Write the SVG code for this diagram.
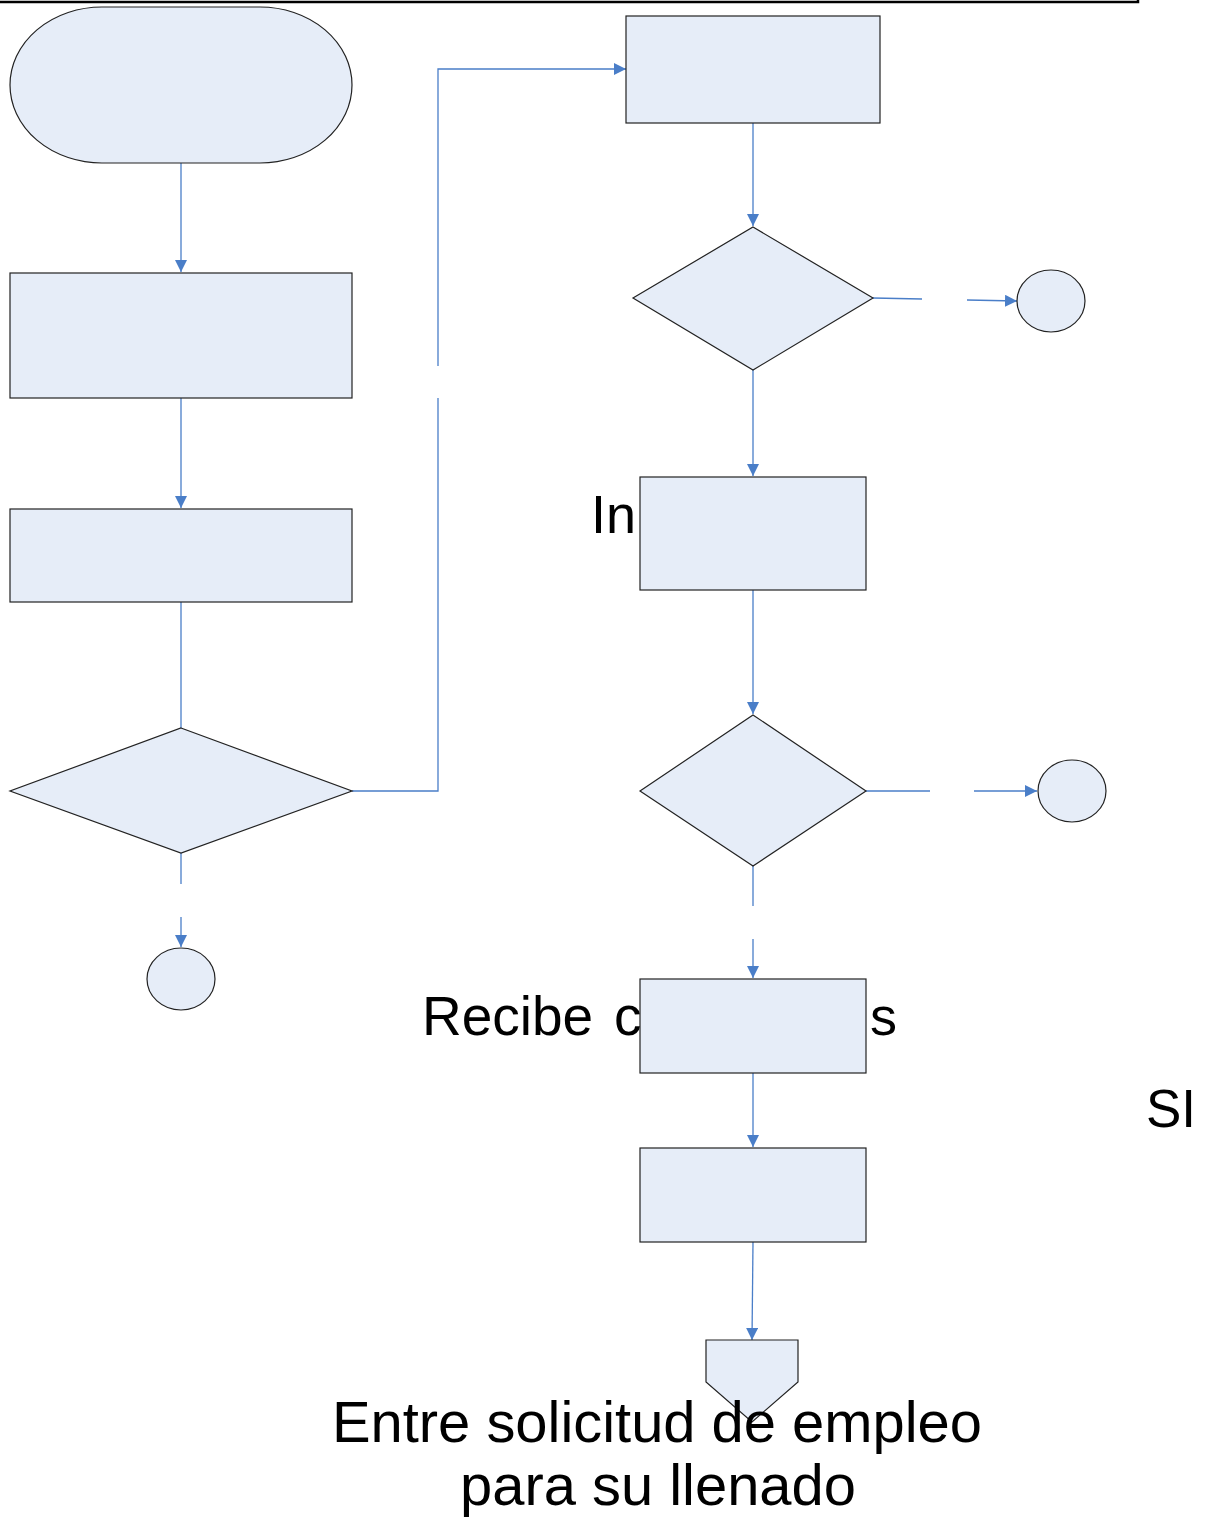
<svg xmlns="http://www.w3.org/2000/svg" width="1214" height="1518" viewBox="0 0 1214 1518">
  <style>
    .shape { fill: #E6EDF8; stroke: #222; stroke-width: 1.2; }
    .conn { fill: none; stroke: #4A7EC8; stroke-width: 1.3; }
    .lbl { font-family: "Liberation Sans", Arial, sans-serif; fill: #000; }
  </style>
  <defs>
    <marker id="arrow" viewBox="0 0 10 10" refX="10" refY="5" markerWidth="12" markerHeight="12" markerUnits="userSpaceOnUse" orient="auto">
      <path d="M0,0 L10,5 L0,10 Z" fill="#4A7EC8"/>
    </marker>
  </defs>

  <!-- page frame edge -->
  <path d="M0,2 H1138 V0" fill="none" stroke="#000" stroke-width="2.5"/>

  <!-- labels that sit behind the shapes -->
  <text class="lbl" x="591" y="533" font-size="54">In</text>
  <text class="lbl" x="422" y="1035" font-size="55">Recibe</text>
  <text class="lbl" x="614" y="1035" font-size="55">c</text>
  <text class="lbl" x="870" y="1035" font-size="54">s</text>
  <text class="lbl" x="1146" y="1127" font-size="53">SI</text>

  <!-- connectors -->
  <g id="connectors">
    <path class="conn" d="M181,163 V272" marker-end="url(#arrow)"/>
    <path class="conn" d="M181,398 V508" marker-end="url(#arrow)"/>
    <path class="conn" d="M181,602 V728"/>
    <path class="conn" d="M181,853 V884"/>
    <path class="conn" d="M181,917 V947" marker-end="url(#arrow)"/>
    <path class="conn" d="M352,791 H438 V398"/>
    <path class="conn" d="M438,366 V69 H626" marker-end="url(#arrow)"/>
    <path class="conn" d="M753,123 V226" marker-end="url(#arrow)"/>
    <path class="conn" d="M873,298 L922,299"/>
    <path class="conn" d="M967,300 L1017,301" marker-end="url(#arrow)"/>
    <path class="conn" d="M753,370 V476" marker-end="url(#arrow)"/>
    <path class="conn" d="M753,590 V714" marker-end="url(#arrow)"/>
    <path class="conn" d="M866,791 H930"/>
    <path class="conn" d="M974,791 H1037" marker-end="url(#arrow)"/>
    <path class="conn" d="M753,866 V906"/>
    <path class="conn" d="M753,939 V978" marker-end="url(#arrow)"/>
    <path class="conn" d="M753,1073 V1147" marker-end="url(#arrow)"/>
    <path class="conn" d="M753,1242 L752,1340" marker-end="url(#arrow)"/>
  </g>

  <!-- left column -->
  <g id="start"><rect class="shape" x="10" y="7" width="342" height="156" rx="92" ry="78"/></g>
  <g id="step1"><rect class="shape" x="10" y="273" width="342" height="125"/></g>
  <g id="step2"><rect class="shape" x="10" y="509" width="342" height="93"/></g>
  <g id="decision1"><polygon class="shape" points="181,728 352,791 181,853 10,791"/></g>
  <g id="end1"><ellipse class="shape" cx="181" cy="979" rx="34" ry="31"/></g>

  <!-- right column -->
  <g id="step3"><rect class="shape" x="626" y="16" width="254" height="107"/></g>
  <g id="decision2"><polygon class="shape" points="753,227 873,298 753,370 633,298"/></g>
  <g id="end2"><ellipse class="shape" cx="1051" cy="301" rx="34" ry="31"/></g>
  <g id="step4"><rect class="shape" x="640" y="477" width="226" height="113"/></g>
  <g id="decision3"><polygon class="shape" points="753,715 866,791 753,866 640,791"/></g>
  <g id="end3"><ellipse class="shape" cx="1072" cy="791" rx="34" ry="31"/></g>
  <g id="step5"><rect class="shape" x="640" y="979" width="226" height="94"/></g>
  <g id="step6"><rect class="shape" x="640" y="1148" width="226" height="94"/></g>
  <g id="offpage"><polygon class="shape" points="706,1340 798,1340 798,1382 752,1422 706,1382"/></g>

  <!-- closing label -->
  <text class="lbl" font-size="57.9" text-anchor="middle">
    <tspan x="665" y="1442">Entre solicitud de empleo</tspan>
    <tspan x="658" y="1505">para su llenado</tspan>
  </text>
</svg>
